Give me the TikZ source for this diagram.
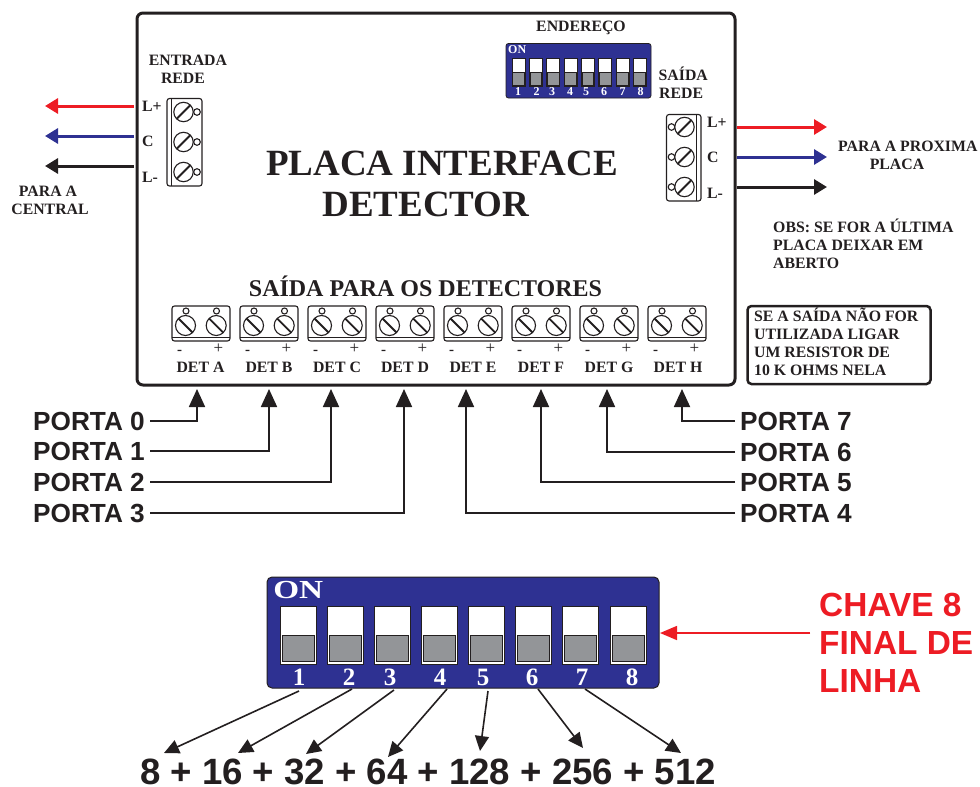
\documentclass[tikz,border=0pt]{standalone}
\usepackage{fontspec}
\setmainfont{Liberation Serif}
\newfontfamily\arl{Liberation Sans}
\usetikzlibrary{arrows.meta}
\definecolor{ink}{HTML}{231F20}
\definecolor{dipblue}{HTML}{2E3192}
\definecolor{sigred}{HTML}{ED1C24}
\definecolor{dipgray}{HTML}{939598}
\tikzset{
  sf/.style={font=\fontsize{#1}{#1}\selectfont\bfseries, text=ink, inner sep=0pt, text height=0.66*#1 pt, text depth=0pt},
  af/.style={font=\fontsize{#1}{#1}\selectfont\arl\bfseries, text=ink, inner sep=0pt, text height=0.72*#1 pt, text depth=0pt},
  wire/.style={line width=3pt, -{Triangle[length=13pt,width=15pt]}},
  portline/.style={line width=1.8pt, draw=ink, -{Triangle[length=18pt,width=16pt]}, shorten <=5pt},
  weight/.style={line width=1.6pt, draw=ink, -{Triangle[length=15pt,width=14pt]}},
  term/.style={draw=ink, line width=1.1pt, rounded corners=2.5pt},
  screw/.style={draw=ink, line width=1.1pt, fill=white},
  slot/.style={draw=ink, line width=1.8pt},
}
\newcommand{\screwA}[2]{% slash, small circle to the right
  \draw[screw] (#1,#2) circle (9.7);
  \draw[slot] (#1-6.8,#2+6.8) -- (#1+6.8,#2-6.8);
}
\newcommand{\screwB}[2]{% back slash
  \draw[screw] (#1,#2) circle (10);
  \draw[slot] (#1-7,#2-7) -- (#1+7,#2+7);
}
\begin{document}
\begin{tikzpicture}[x=1pt,y=-1pt]
\useasboundingbox (0,0) rectangle (980,787);
% main board
\draw[draw=ink, line width=3pt, rounded corners=6pt] (137,13) rectangle (735,385);
% titles
\node[sf=37] (title1) at (442,163) {PLACA INTERFACE};
\node[sf=37] (title2) at (426,204) {DETECTOR};
\node[sf=24] (saida) at (425.5,289) {SAÍDA PARA OS DETECTORES};
\node[sf=15.8] (ender) at (581,26) {ENDEREÇO};
\node[sf=15.8] (entr1) at (188,60.5) {ENTRADA};
\node[sf=15.8] (entr2) at (183,78) {REDE};
\node[sf=15.8,anchor=west] (said1) at (658.5,75) {SAÍDA};
\node[sf=15.8,anchor=west] (said2) at (659,93) {REDE};
% left terminal
\draw[term] (167,98.5) rectangle (202,186);
\draw[draw=ink,line width=1pt] (171.5,98.5) -- (171.5,186);
\foreach \y in {112,142,172}{
  \draw[screw] (197,\y) circle (3.3);
  \screwA{183.5}{\y}
}
\node[sf=15.8,anchor=west] (lp) at (142,106) {L+};
\node[sf=15.8,anchor=west] (lc) at (142,141) {C};
\node[sf=15.8,anchor=west] (lm) at (142,177) {L-};
% right terminal
\draw[term] (666.5,114.5) rectangle (701,201);
\draw[draw=ink,line width=1pt] (696.5,114.5) -- (696.5,201);
\foreach \y in {127,157,187}{
  \draw[screw] (671.5,\y) circle (3.3);
  \screwA{684.5}{\y}
}
\node[sf=15.8,anchor=west] (rp) at (707,122) {L+};
\node[sf=15.8,anchor=west] (rc) at (707,157) {C};
\node[sf=15.8,anchor=west] (rm) at (707,193) {L-};
% left wires
\coordinate (a1) at (134,106); \coordinate (a1e) at (45,106);
\coordinate (a2) at (134,136); \coordinate (a2e) at (45,136);
\coordinate (a3) at (134,166); \coordinate (a3e) at (45,166);
\draw[wire,draw=sigred,fill=sigred] (a1) -- (a1e);
\draw[wire,draw=dipblue,fill=dipblue] (a2) -- (a2e);
\draw[wire,draw=ink,fill=ink] (a3) -- (a3e);
\node[sf=15.8] (pc1) at (48,191) {PARA A};
\node[sf=15.8] (pc2) at (50,209) {CENTRAL};
% right wires
\coordinate (b1) at (737,127); \coordinate (b1e) at (827,127);
\coordinate (b2) at (737,157); \coordinate (b2e) at (827,157);
\coordinate (b3) at (737,187); \coordinate (b3e) at (827,187);
\draw[wire,draw=sigred,fill=sigred] (b1) -- (b1e);
\draw[wire,draw=dipblue,fill=dipblue] (b2) -- (b2e);
\draw[wire,draw=ink,fill=ink] (b3) -- (b3e);
\node[sf=15.8,anchor=west] (pp1) at (838,146) {PARA A PROXIMA};
\node[sf=15.8] (pp2) at (897,164) {PLACA};
\node[sf=15.8,anchor=west] (ob1) at (773,227) {OBS: SE FOR A ÚLTIMA};
\node[sf=15.8,anchor=west] (ob2) at (773,245) {PLACA DEIXAR EM};
\node[sf=15.8,anchor=west] (ob3) at (773,263) {ABERTO};
% small dip
\draw[draw=ink,fill=dipblue,line width=.8pt,rounded corners=2.5pt] (506,43.5) rectangle (651,98);
\node[sf=12,text=white,anchor=west] (on1) at (508,50) {ON};
\foreach \x/\n/\m in {512/1/518,529.3/2/536.5,546.6/3/552,564/4/570,581.2/5/586,598.5/6/604,616/7/622.5,633/8/640.5}{
  \draw[draw=ink,fill=white,line width=.5pt] (\x,58) rectangle (\x+13,86);
  \draw[draw=ink,fill=dipgray,line width=.6pt] (\x+.7,72) rectangle (\x+12.3,85);
  \node[sf=12,text=white] at (\m,92) {\n};
}
% bottom terminals
\foreach \x/\l/\lx in {172/A/200.5,240/B/269,308/C/337,376/D/405,444/E/473,512/F/541,580/G/609,648/H/678}{
  \draw[term] (\x,306) rectangle (\x+58,341);
  \draw[draw=ink,line width=1pt] (\x,337) -- (\x+58,337);
  \draw[screw] (\x+14,311) circle (3);
  \draw[screw] (\x+44.5,311) circle (3);
  \screwB{\x+13.5}{325.5}
  \screwB{\x+44.2}{325.5}
  \node[sf=15] at (\x+7.5,349.5) {-};
  \node[sf=14,font=\fontsize{17}{17}\selectfont] at (\x+46.5,348.5) {+};
  \node[sf=15.8] at (\lx,367) {DET \l};
}
% note box
\draw[draw=ink,line width=2.5pt,rounded corners=4pt] (747.5,306) rectangle (930.5,384);
\node[sf=15.8,anchor=west] (n1) at (754,316.5) {SE A SAÍDA NÃO FOR};
\node[sf=15.8,anchor=west] (n2) at (754,334.5) {UTILIZADA LIGAR};
\node[sf=15.8,anchor=west] (n3) at (754,352.5) {UM RESISTOR  DE};
\node[sf=15.8,anchor=west] (n4) at (754,370) {10 K OHMS NELA};
% ports
\foreach \n/\y in {0/421,1/451,2/482,3/513}{
  \node[af=26.2,anchor=west] (p\n) at (33,\y) {PORTA \n};
}
\foreach \n/\y in {7/421,6/452,5/482,4/513}{
  \node[af=26.2,anchor=west] (p\n) at (740,\y) {PORTA \n};
}
\foreach \n/\x in {0/197,1/269,2/331,3/404,4/466,5/541,6/607,7/682}{
  \coordinate (t\n) at (\x,389);
}
\foreach \n in {0,1,2,3,4,5,6,7}{
  \draw[portline] (p\n) -| (t\n);
}
% big dip
\draw[draw=ink,fill=dipblue,line width=1pt,rounded corners=5pt] (267,577) rectangle (659,688);
\node[sf=26,text=white,anchor=west,xscale=1.28] (on2) at (273,590) {ON};
\foreach \i/\x/\m in {1/280/299,2/327/349,3/374/390,4/421/440,5/468/483,6/515/532,7/562/582,8/610/632}{
  \draw[draw=ink,fill=white,line width=.8pt] (\x,606) rectangle (\x+36,664);
  \draw[draw=ink,fill=dipgray,line width=.8pt] (\x+2,635) rectangle (\x+34,661.5);
  \node[sf=25,text=white] (d\i) at (\m,677) {\i};
}
% chave 8
\node[af=33.4,text=sigred,anchor=west] (c1) at (819,604) {CHAVE 8};
\node[af=33.4,text=sigred,anchor=west] (c2) at (819,642) {FINAL DE};
\node[af=33.4,text=sigred,anchor=west] (c3) at (819,680) {LINHA};
\coordinate (c0) at (810,633);
\coordinate (c0e) at (660,633);
\draw[line width=1.6pt,draw=sigred,fill=sigred,-{Triangle[length=17pt,width=14pt]}] (c0) -- (c0e);
% sum
\node[af=36.6] (sum) at (428,771.5) {8 + 16 + 32 + 64 + 128 + 256 + 512};
\foreach \i/\xa/\ya/\xb/\yb in {1/299/691/164/753,2/352/689/238/753,3/394/690/306/754,4/447/689/388/757,5/488/691/480/751,6/538/689/583/748,7/585/689/681/753}{
  \coordinate (w\i a) at (\xa,\ya);
  \coordinate (w\i b) at (\xb,\yb);
  \draw[weight] (w\i a) -- (w\i b);
}
\end{tikzpicture}
\end{document}
